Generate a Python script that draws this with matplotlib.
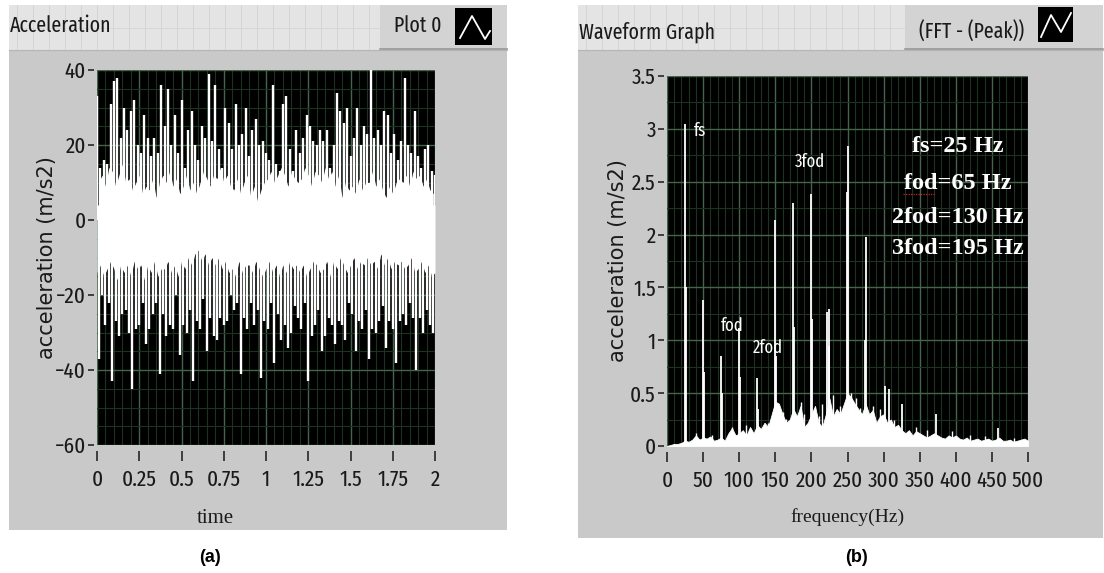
import numpy as np
import matplotlib.pyplot as plt
from matplotlib.patches import Rectangle
from matplotlib.lines import Line2D
from matplotlib.ticker import MultipleLocator

W, H = 1104, 573

# ---- (a) acceleration signal ----
# spike tops every 0.02 s from 0 to 2 s
upper_tops = [33, 14, 16, 15, 31, 37, 38, 22, 30, 24,
              29, 32, 20, 18, 28, 22, 17, 22, 18, 36,
              25, 35, 20, 28, 18, 32, 14, 24, 29, 20,
              16, 25, 22, 39, 21, 36, 19, 14, 30, 26,
              19, 31, 20, 23, 30, 17, 24, 27, 20, 21,
              18, 16, 36, 15, 13, 31, 33, 19, 13, 24,
              18, 22, 28, 25, 21, 20, 24, 21, 24, 14,
              20, 34, 29, 26, 30, 17, 22, 30, 20, 25,
              23, 40, 22, 24, 20, 29, 28, 18, 23, 16,
              21, 38, 20, 18, 29, 17, 14, 19, 20, 13,
              12]
# black gaps between the upper spikes, 0.01 to 1.99 s
upper_gaps = [10, 12, 9, 14, 13, 9, 12, 15, 10, 11,
              8, 10, 12, 7, 9, 8, 11, 6, 10, 12,
              10, 13, 9, 11, 7, 9, 12, 8, 10, 7,
              10, 13, 11, 9, 12, 11, 14, 10, 12, 9,
              8, 11, 7, 10, 12, 6, 9, 5, 8, 10,
              11, 13, 10, 12, 14, 12, 9, 13, 11, 10,
              11, 14, 12, 9, 13, 12, 10, 14, 11, 13,
              9, 12, 6, 10, 8, 9, 7, 11, 8, 10,
              10, 13, 9, 11, 8, 6, 9, 7, 10, 11,
              10, 12, 9, 13, 11, 12, 9, 11, 8, 7]
# spike bottoms every 0.02 s from 0.01 to 1.99 s
lower_bottoms = [-37, -20, -28, -22, -43, -27, -31, -25, -24, -30,
                 -45, -29, -28, -22, -33, -29, -25, -22, -41, -25,
                 -31, -28, -29, -20, -36, -28, -30, -24, -43, -27,
                 -29, -21, -35, -26, -31, -32, -26, -28, -27, -20,
                 -24, -22, -41, -26, -29, -22, -28, -24, -42, -27,
                 -29, -22, -38, -25, -32, -28, -34, -30, -23, -26,
                 -29, -22, -43, -31, -28, -24, -35, -31, -26, -28,
                 -33, -27, -28, -32, -22, -25, -35, -27, -29, -24,
                 -37, -29, -30, -27, -23, -34, -27, -29, -38, -27,
                 -25, -28, -22, -26, -40, -26, -30, -24, -28, -30]
# black gaps between the lower spikes, 0 to 2 s
lower_gaps = [-14, -12, -15, -13, -11, -13, -16, -12, -14, -12,
              -15, -11, -13, -12, -16, -12, -14, -11, -15, -13,
              -13, -11, -14, -12, -15, -11, -13, -10, -12, -9,
              -8, -11, -9, -12, -10, -12, -10, -13, -11, -14,
              -13, -15, -11, -14, -12, -12, -14, -11, -13, -15,
              -13, -11, -14, -12, -15, -12, -14, -11, -13, -12,
              -14, -12, -15, -13, -11, -12, -14, -13, -11, -15,
              -11, -13, -10, -12, -14, -12, -10, -13, -11, -12,
              -10, -12, -11, -13, -9, -12, -10, -13, -11, -12,
              -11, -13, -12, -10, -14, -13, -11, -14, -12, -15,
              -14]
time_ticks = [0, 0.25, 0.5, 0.75, 1, 1.25, 1.5, 1.75, 2]
time_labels = ['0', '0.25', '0.5', '0.75', '1', '1.25', '1.5', '1.75', '2']
acc_ticks = [-60, -40, -20, 0, 20, 40]

# ---- (b) FFT peak spectrum ----
# noise floor every 5 Hz from 0 to 500 Hz
floor_vals = [0.00, 0.01, 0.02, 0.02, 0.03, 0.05, 0.04, 0.06, 0.10, 0.06,
              0.08, 0.07, 0.09, 0.05, 0.06, 0.08, 0.05, 0.12, 0.17, 0.10,
              0.12, 0.15, 0.10, 0.18, 0.12, 0.20, 0.16, 0.22, 0.18, 0.30,
              0.42, 0.40, 0.30, 0.22, 0.25, 0.35, 0.28, 0.38, 0.18, 0.22,
              0.30, 0.38, 0.22, 0.18, 0.30, 0.45, 0.28, 0.35, 0.30, 0.40,
              0.50, 0.46, 0.40, 0.35, 0.30, 0.40, 0.30, 0.34, 0.22, 0.28,
              0.30, 0.22, 0.25, 0.18, 0.20, 0.15, 0.12, 0.15, 0.10, 0.14,
              0.12, 0.10, 0.08, 0.10, 0.12, 0.10, 0.08, 0.07, 0.10, 0.08,
              0.10, 0.07, 0.06, 0.08, 0.05, 0.06, 0.07, 0.05, 0.06, 0.07,
              0.05, 0.06, 0.08, 0.05, 0.05, 0.06, 0.04, 0.05, 0.06, 0.07,
              0.05]
peak_freqs = [25, 26, 50, 51, 75, 76, 100, 101, 125, 126, 150, 151, 175, 176,
              200, 201, 222, 224, 225, 249, 250, 274, 275, 302, 308, 325, 372, 459]
peak_vals = [3.05, 1.50, 1.38, 0.70, 0.85, 0.50, 1.12, 0.65, 0.64, 0.35, 2.14, 0.85, 2.30, 1.13,
             2.38, 1.20, 1.27, 0.95, 1.30, 2.40, 2.84, 1.00, 1.98, 0.57, 0.54, 0.40, 0.30, 0.17]
small_freqs = [40, 62, 90, 110, 115, 140, 160, 165, 185, 190, 210, 215, 230,
               240, 255, 262, 268, 285, 295, 315, 345, 360, 395, 420, 440, 480]
small_vals = [0.12, 0.10, 0.18, 0.20, 0.16, 0.22, 0.32, 0.26, 0.42, 0.30, 0.28, 0.40, 0.48,
              0.38, 0.50, 0.45, 0.36, 0.38, 0.35, 0.25, 0.18, 0.15, 0.14, 0.10, 0.09, 0.08]
freq_ticks = [0, 50, 100, 150, 200, 250, 300, 350, 400, 450, 500]
amp_ticks = [0, 0.5, 1, 1.5, 2, 2.5, 3, 3.5]
amp_labels = ['0', '0.5', '1', '1.5', '2', '2.5', '3', '3.5']
notes = ['fs=25 Hz', 'fod=65 Hz', '2fod=130 Hz', '3fod=195 Hz']

# LabVIEW uses a squeezed sans; fall back to DejaVu Sans condensed
NARROW = ['Fira Sans Extra Condensed', 'Roboto Condensed', 'DejaVu Sans']
SERIF = ['Liberation Serif', 'DejaVu Serif']
PANEL = '#c9c9c9'
HEADER = '#e4e4e4'
MAJ_GRID = '#45654a'
MIN_GRID = '#1c331f'


def px_rect(x0, y0, x1, y1):
    # pixel box (top-left origin) -> figure fraction rect
    return [x0 / W, 1 - y1 / H, (x1 - x0) / W, (y1 - y0) / H]


def fig_box(fig, x0, y0, x1, y1, color, z=-5, ec='none'):
    l, b, w, h = px_rect(x0, y0, x1, y1)
    fig.add_artist(Rectangle((l, b), w, h, transform=fig.transFigure,
                             facecolor=color, edgecolor=ec, lw=0.8, zorder=z))


def fig_line(fig, xs, ys, color, lw, z=-2):
    fig.add_artist(Line2D([x / W for x in xs], [1 - y / H for y in ys],
                          transform=fig.transFigure, color=color, lw=lw, zorder=z))


def draw_panel(fig, x0, y0, x1, y1, title, title_y, legend, leg_x0, icon, icon_pts):
    fig_box(fig, x0, y0, x1, y1, PANEL)
    fig_box(fig, x0, y0, leg_x0, 50, HEADER, z=-4)
    # faint grid pattern in the header strip
    for gx in range(x0 + 8, leg_x0, 16):
        fig_line(fig, [gx, gx], [y0, 50], '#d2d2d2', 0.6, z=-3)
    fig_line(fig, [x0, leg_x0], [28, 28], '#d6d6d6', 0.6, z=-3)
    fig_line(fig, [x0, x1], [50, 50], '#b5b5b5', 0.8, z=-3)
    # legend box
    fig_box(fig, leg_x0, y0, x1, 48, '#d3d3d3', z=-4)
    fig_line(fig, [leg_x0, x1], [49, 49], '#9a9a9a', 1.2, z=-3)
    fig.text(x0 / W + 0.001, 1 - title_y / H, title, fontsize=15.5, family=NARROW,
             fontstretch='condensed', color='#1a1a1a', va='center', ha='left')
    fig.text((leg_x0 + icon[0]) / 2 / W, 1 - title_y / H, legend, fontsize=15.5, family=NARROW,
             fontstretch='condensed', color='#1a1a1a', va='center', ha='center')
    fig_box(fig, icon[0], icon[1], icon[2], icon[3], 'black', z=-2)
    fig_line(fig, [p[0] for p in icon_pts], [p[1] for p in icon_pts], 'white', 1.3, z=-1)


def style_axes(ax, xmin, ymin):
    ax.set_facecolor('black')
    ax.set_axisbelow(True)
    ax.xaxis.set_minor_locator(MultipleLocator(xmin))
    ax.yaxis.set_minor_locator(MultipleLocator(ymin))
    ax.grid(which='major', color=MAJ_GRID, lw=1.0)
    ax.grid(which='minor', color=MIN_GRID, lw=0.8)
    for s in ax.spines.values():
        s.set_color('none')
    ax.spines['bottom'].set_position(('outward', 4))
    ax.spines['left'].set_position(('outward', 2))
    ax.tick_params(which='minor', length=0)
    ax.tick_params(axis='x', which='major', length=7, width=1.3, color='#333333',
                   pad=6, labelsize=16.5, labelcolor='#1a1a1a')
    ax.tick_params(axis='y', which='major', length=4.5, width=1.3, color='#333333',
                   pad=1.5, labelsize=16.5, labelcolor='#1a1a1a')
    for lab in ax.get_xticklabels() + ax.get_yticklabels():
        lab.set_family(NARROW)
        lab.set_fontstretch('condensed')


def plot_signal(ax):
    t_up = np.linspace(0, 2, len(upper_tops))
    t_low = np.linspace(0.01, 1.99, len(lower_bottoms))
    # solid white core of the signal (the two halves overlap to avoid a seam)
    ax.fill_between(np.linspace(0.01, 1.99, len(upper_gaps)), -4, upper_gaps, color='white', lw=0)
    ax.fill_between(np.linspace(0, 2, len(lower_gaps)), lower_gaps, 4, color='white', lw=0)
    ax.vlines(t_up, 0, upper_tops, color='white', lw=1.7)
    ax.vlines(t_low, 0, lower_bottoms, color='white', lw=1.7)
    ax.set_xlim(0, 2)
    ax.set_ylim(-60, 40)
    ax.set_xticks(time_ticks)
    ax.set_xticklabels(time_labels)
    ax.set_yticks(acc_ticks)
    style_axes(ax, 0.05, 5)
    ax.text(-0.147, 0.5, 'acceleration (m/s2)', transform=ax.transAxes, rotation=90,
            ha='center', va='center', fontsize=15, color='#1a1a1a')
    ax.text(0.35, -0.195, 'time', transform=ax.transAxes, ha='center', va='center',
            fontsize=15, family=SERIF, color='#1a1a1a')


def plot_spectrum(ax):
    f_floor = np.linspace(0, 500, len(floor_vals))
    ax.fill_between(f_floor, 0, floor_vals, color='white', lw=0.6)
    ax.vlines(small_freqs, 0, small_vals, color='white', lw=1.0)
    ax.vlines(peak_freqs, 0, peak_vals, color='white', lw=1.3)
    ax.set_xlim(0, 500)
    ax.set_ylim(0, 3.5)
    ax.set_xticks(freq_ticks)
    ax.set_yticks(amp_ticks)
    ax.set_yticklabels(amp_labels)
    style_axes(ax, 10, 0.25)
    ax.text(-0.137, 0.5, 'acceleration (m/s2)', transform=ax.transAxes, rotation=90,
            ha='center', va='center', fontsize=15, color='#1a1a1a')
    ax.text(0.5, -0.192, 'frequency(Hz)', transform=ax.transAxes, ha='center', va='center',
            fontsize=14, family=SERIF, color='#1a1a1a')

    # peak names
    lab = dict(color='white', fontsize=13, family=NARROW, fontstretch='condensed',
               va='center', ha='left')
    ax.text(37, 2.98, 'fs', **lab)
    ax.text(177, 2.69, '3fod', **lab)
    ax.text(75, 1.14, 'fod', **lab)
    ax.text(119, 0.93, '2fod', **lab)

    # frequency notes
    note_y = [2.83, 2.48, 2.16, 1.87]
    for txt, y in zip(notes, note_y):
        ax.text(403, y, txt, color='white', fontsize=17.5, fontweight='bold',
                family=SERIF, ha='center', va='center')
    # spell-check squiggle under "fod"
    ax.plot([327, 371], [2.38, 2.38], color='#d02020', lw=0.9, ls=(0, (1, 1)))


def main():
    fig = plt.figure(figsize=(W / 100, H / 100), dpi=100)
    fig.patch.set_facecolor('white')

    draw_panel(fig, 9, 5, 507, 530, 'Acceleration', 26, 'Plot 0', 380,
               (455, 8, 492, 45), [(460, 38), (472, 16), (485, 39), (490, 31)])
    draw_panel(fig, 578, 5, 1103, 538, 'Waveform Graph', 32, '(FFT - (Peak))', 905,
               (1038, 7, 1073, 42), [(1041, 37), (1051, 15), (1061, 32), (1071, 13)])

    ax1 = fig.add_axes(px_rect(97, 70, 435, 445))
    plot_signal(ax1)
    ax2 = fig.add_axes(px_rect(667, 76, 1028, 446))
    plot_spectrum(ax2)

    fig.text(210 / W, 1 - 558 / H, '(a)', fontsize=13, fontweight='bold',
             family=['Liberation Sans', 'DejaVu Sans'], ha='center', va='center')
    fig.text(857 / W, 1 - 558 / H, '(b)', fontsize=13, fontweight='bold',
             family=['Liberation Sans', 'DejaVu Sans'], ha='center', va='center')

    fig.savefig('out.png', dpi=100, facecolor='white')


main()
